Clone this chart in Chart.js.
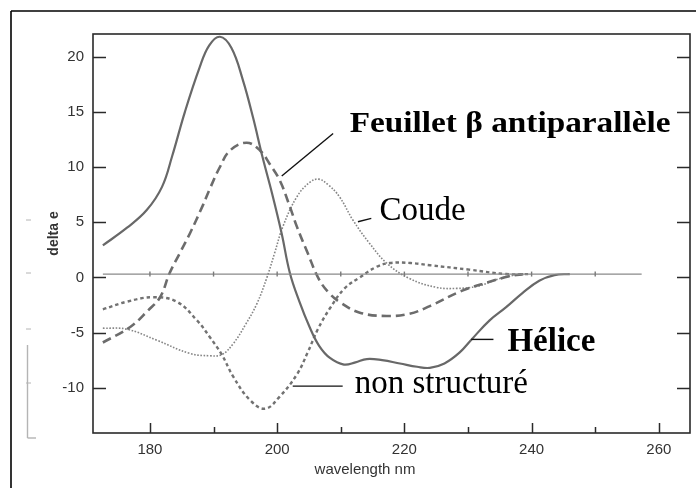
<!DOCTYPE html>
<html>
<head>
<meta charset="utf-8">
<script src="https://cdn.jsdelivr.net/npm/chart.js@4/dist/chart.umd.min.js"></script>
<style>
  html, body { margin: 0; padding: 0; background: #fff; }
  #wrap { position: relative; width: 696px; height: 488px; }
</style>
</head>
<body>
<div id="wrap"><canvas id="cd" width="696" height="488"></canvas></div>
<script>
// Circular dichroism spectra of secondary-structure types (delta e vs wavelength, nm)
const helixWl = [172.6,176.4,179.5,181.9,183.5,185.5,187.8,189.3,191.0,192.8,194.6,196.2,197.7,199.2,200.7,202.0,203.5,205.1,206.6,208.3,210.5,212.3,214.1,216.5,219.3,222.0,224.0,226.3,228.7,230.6,233.4,236.0,238.6,241.2,243.6,246.0];
const helixDe = [2.9,4.5,6.1,8.2,11.0,15.0,19.0,21.0,21.8,20.8,17.9,14.5,10.9,7.6,4.0,0.4,-2.2,-4.5,-6.2,-7.3,-7.9,-7.7,-7.4,-7.5,-7.8,-8.1,-8.2,-7.8,-6.8,-5.6,-3.9,-2.7,-1.4,-0.3,0.2,0.3];

const sheetWl = [172.6,176.9,179.7,181.6,183.1,184.7,186.3,188.3,189.4,191.0,192.6,195.2,197.3,198.8,200.4,202.0,203.1,204.8,206.6,208.3,210.0,213.0,217.2,220.8,224.0,229.1,233.4,236.5,239.0];
const sheetDe = [-5.9,-4.5,-3.0,-1.8,0.4,2.2,4.0,6.5,8.0,10.0,11.5,12.2,11.5,10.3,8.8,6.4,4.6,2.2,-0.2,-1.5,-2.3,-3.2,-3.5,-3.3,-2.6,-1.2,-0.4,0.1,0.3];

const turnWl = [172.6,176.4,181.1,186.3,189.4,191.3,193.1,195.0,196.8,198.4,199.6,200.9,203.1,205.1,206.5,208.0,209.8,211.9,214.5,217.2,220.8,225.0,228.2,231.5,235.0,238.0];
const turnDe = [-4.6,-4.7,-5.7,-6.9,-7.1,-7.0,-6.0,-4.3,-2.4,0.0,2.2,4.6,7.3,8.6,8.9,8.4,7.3,5.2,3.1,1.3,-0.1,-0.9,-1.0,-0.8,-0.1,0.3];

const coilWl = [172.6,176.4,180.5,184.2,187.4,189.4,191.3,193.1,195.7,198.1,200.4,203.1,204.8,206.4,208.3,210.6,213.0,215.6,217.7,221.0,224.0,230.2,236.0,240.0];
const coilDe = [-2.9,-2.2,-1.8,-2.2,-3.9,-5.4,-7.0,-9.0,-11.1,-11.9,-10.8,-8.8,-6.8,-4.7,-2.8,-1.0,0.0,0.95,1.3,1.3,1.1,0.7,0.3,0.3];

// reference baseline with a marker every 10 nm
const baseWl = [172.6,180,190,200,210,220,230,240,250,257.3];
const baseDe = [0.3,0.3,0.3,0.3,0.3,0.3,0.3,0.3,0.3,0.3];

// axis ticks
const xMajorTicks = [180,200,220,240,260];
const xMinorTicks = [190,210,230,250];
const yTicks = [-10,-5,0,5,10,15,20];

// curve labels, anchored in data units (wavelength, delta e)
const labelText = ['Feuillet \u03b2 antiparall\u00e8le', 'Coude', 'H\u00e9lice', 'non structur\u00e9'];
const labelWl = [211.4, 216.1, 236.2, 212.2];
const labelDe = [13.19, 5.19, -6.65, -10.45];
const labelBold = [true, false, true, false];
const leaderFromWl = [208.8, 212.7, 230.5, 202.45];
const leaderFromDe = [13.04, 5.04, -5.62, -9.85];
const leaderToWl = [200.72, 214.8, 234.0, 210.3];
const leaderToDe = [9.18, 5.34, -5.62, -9.85];

const pairs = (xs, ys) => xs.map((v, i) => ({ x: v, y: ys[i] }));

const decor = {
  id: 'decor',
  afterDatasetsDraw(chart) {
    const { ctx, chartArea: a, scales: { x, y } } = chart;
    const seg = (x1, y1, x2, y2) => { ctx.beginPath(); ctx.moveTo(x1, y1); ctx.lineTo(x2, y2); ctx.stroke(); };
    ctx.save();

    // page frame (left and top rules)
    ctx.strokeStyle = '#000'; ctx.lineWidth = 1.6;
    seg(11, 11, 696, 11);
    seg(11, 11, 11, 488);

    // faint side rule
    ctx.strokeStyle = '#b4b4b4'; ctx.lineWidth = 1.4;
    seg(27.5, 345, 27.5, 438);
    seg(27.5, 438, 36, 438);
    ctx.lineWidth = 1;
    [220, 273, 329, 383].forEach(p => seg(26, p, 31, p));

    // plot frame
    ctx.strokeStyle = '#2a2a2a'; ctx.lineWidth = 1.6;
    ctx.strokeRect(a.left, a.top, a.right - a.left, a.bottom - a.top);

    // inward tick marks
    ctx.lineWidth = 1.5;
    xMajorTicks.forEach(v => { const p = Math.round(x.getPixelForValue(v)) + 0.5; seg(p, a.bottom, p, a.bottom - 10); });
    xMinorTicks.forEach(v => { const p = Math.round(x.getPixelForValue(v)) + 0.5; seg(p, a.bottom, p, a.bottom - 6); });
    yTicks.forEach(v => {
      const p = Math.round(y.getPixelForValue(v)) + 0.5;
      seg(a.left, p, a.left + 13, p);
      seg(a.right, p, a.right - 13, p);
    });

    // x axis title
    ctx.fillStyle = '#333';
    ctx.font = '15px "Liberation Sans", Arial, sans-serif';
    ctx.textAlign = 'center'; ctx.textBaseline = 'middle';
    ctx.fillText('wavelength nm', 365, 470);

    // curve labels and leader lines; the sheet label is set in a slightly widened bold face
    ctx.strokeStyle = '#111'; ctx.lineWidth = 1.4;
    labelText.forEach((t, i) => {
      seg(x.getPixelForValue(leaderFromWl[i]), y.getPixelForValue(leaderFromDe[i]),
          x.getPixelForValue(leaderToWl[i]), y.getPixelForValue(leaderToDe[i]));
      ctx.fillStyle = '#000';
      ctx.textAlign = 'left'; ctx.textBaseline = 'alphabetic';
      const px = x.getPixelForValue(labelWl[i]);
      const py = y.getPixelForValue(labelDe[i]);
      if (i === 0) {
        ctx.save();
        ctx.font = 'bold 30px "Liberation Serif", "Times New Roman", serif';
        ctx.translate(px, py);
        ctx.scale(1.11, 1);
        ctx.fillText(t, 0, 0);
        ctx.restore();
      } else {
        ctx.font = (labelBold[i] ? 'bold ' : '') + '33px "Liberation Serif", "Times New Roman", serif';
        ctx.fillText(t, px, py);
      }
    });
    ctx.restore();
  }
};

const tickFont = { family: '"Liberation Sans", Arial, sans-serif', size: 15 };

new Chart(document.getElementById('cd'), {
  type: 'scatter',
  data: {
    datasets: [
      { label: 'baseline', data: pairs(baseWl, baseDe), showLine: true, borderColor: '#8a8a8a', borderWidth: 1.2,
        tension: 0, pointStyle: 'line', rotation: 90, pointBorderColor: '#7a7a7a', pointBorderWidth: 1.4,
        pointRadius: baseWl.map((v, i) => (i === 0 || i === baseWl.length - 1) ? 0 : 2.5) },
      { label: 'Hélice', data: pairs(helixWl, helixDe), showLine: true, borderColor: '#686868', borderWidth: 2.2,
        tension: 0.4, pointRadius: 0 },
      { label: 'Feuillet β antiparallèle', data: pairs(sheetWl, sheetDe), showLine: true, borderColor: '#6c6c6c', borderWidth: 2.6,
        borderDash: [9, 5], tension: 0.4, pointRadius: 0 },
      { label: 'Coude', data: pairs(turnWl, turnDe), showLine: true, borderColor: '#858585', borderWidth: 1.6,
        borderDash: [1.6, 1.6], tension: 0.4, pointRadius: 0 },
      { label: 'non structuré', data: pairs(coilWl, coilDe), showLine: true, borderColor: '#727272', borderWidth: 2.4,
        borderDash: [3.5, 3], tension: 0.4, pointRadius: 0 }
    ]
  },
  options: {
    responsive: false,
    animation: false,
    devicePixelRatio: 1,
    layout: { padding: { top: 34, right: 6, left: 46, bottom: 0 } },
    plugins: { legend: { display: false }, tooltip: { enabled: false } },
    scales: {
      x: {
        type: 'linear', min: 171.05, max: 264.9,
        afterBuildTicks: s => { s.ticks = xMajorTicks.map(v => ({ value: v })); },
        afterFit: s => { s.height = 55; },
        grid: { display: false, drawTicks: false },
        border: { display: false },
        ticks: { font: tickFont, color: '#333', padding: 8, maxRotation: 0, autoSkip: false }
      },
      y: {
        type: 'linear', min: -14.1, max: 22.05,
        afterBuildTicks: s => { s.ticks = yTicks.map(v => ({ value: v })); },
        afterFit: s => { s.width = 47; },
        grid: { display: false, drawTicks: false },
        border: { display: false },
        ticks: { font: tickFont, color: '#333', padding: 9, autoSkip: false },
        title: { display: true, text: 'delta e', color: '#333', padding: 0,
                 font: { family: '"Liberation Sans", Arial, sans-serif', size: 14, weight: 'bold' } }
      }
    }
  },
  plugins: [decor]
});
</script>
</body>
</html>
